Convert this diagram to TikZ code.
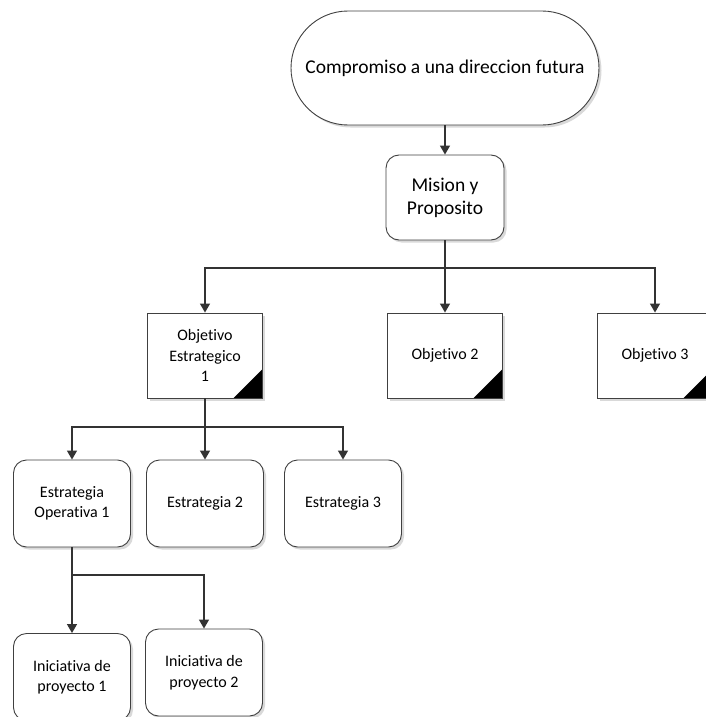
\documentclass[tikz,border=0pt]{standalone}
\usepackage{fontspec}
\setmainfont{Carlito}[Ligatures={NoCommon,NoContextual}]
\usetikzlibrary{arrows.meta,shadows}

\begin{document}
\begin{tikzpicture}[x=1pt,y=-1pt,
    every node/.style={align=center, inner sep=0pt},
    shade box/.style={drop shadow={shadow xshift=2.5pt, shadow yshift=-2.5pt, fill=black!15, opacity=1}},
    pill/.style={draw=black!75, line width=0.9pt, fill=white, shade box,
      rounded corners=57pt, minimum width=308pt, minimum height=114pt,
      font=\fontsize{19.5}{23}\selectfont},
    mainbox/.style={draw=black!75, line width=0.9pt, fill=white, shade box,
      rounded corners=13pt, minimum width=118pt, minimum height=85pt,
      font=\fontsize{19.5}{23}\selectfont},
    roundbox/.style={draw=black!75, line width=0.9pt, fill=white, shade box,
      rounded corners=13pt, minimum width=117pt, minimum height=87pt,
      font=\fontsize{16}{20.5}\selectfont},
    objbox/.style={draw=black!75, line width=0.9pt, fill=white, shade box,
      minimum width=115pt, minimum height=85pt,
      font=\fontsize{16}{20.5}\selectfont,
      path picture={\fill[black]
        ([xshift=-29pt]path picture bounding box.south east) --
        (path picture bounding box.south east) --
        ([yshift=29pt]path picture bounding box.south east) -- cycle;}},
    link/.style={line width=1.3pt, draw=black!80},
    arrow/.style={link, -{Triangle[length=9pt,width=10pt]}}
  ]
  \useasboundingbox (0,0) rectangle (706,717);

  % nodes
  \node[pill] (fut) at (445,68) {Compromiso a una direccion futura};
  \node[mainbox] (mis) at (445,197.5) {Mision y\\Proposito};

  \node[objbox] (obj1) at (205,355.5) {Objetivo\\Estrategico\\1};
  \node[objbox] (obj2) at (445,355.5) {Objetivo 2};
  \node[objbox] (obj3) at (655,355.5) {Objetivo 3};

  \node[roundbox] (est1) at (72,503.5) {Estrategia\\Operativa 1};
  \node[roundbox] (est2) at (205,503.5) {Estrategia 2};
  \node[roundbox] (est3) at (343,503.5) {Estrategia 3};

  \node[roundbox] (ini1) at (72,677) {Iniciativa de\\proyecto 1};
  \node[roundbox] (ini2) at (204,672.5) {Iniciativa de\\proyecto 2};

  % connectors
  \coordinate (jmis) at (445,268);
  \coordinate (jobj) at (205,427);
  \coordinate (jest) at (72,575);

  \draw[arrow] (fut) -- (mis);
  \draw[link] (mis) -- (jmis);
  \draw[arrow] (jmis) -| (obj1);
  \draw[arrow] (jmis) -- (obj2);
  \draw[arrow] (jmis) -| (obj3);

  \draw[link] (obj1) -- (jobj);
  \draw[arrow] (jobj) -| (est1);
  \draw[arrow] (jobj) -- (est2);
  \draw[arrow] (jobj) -| (est3);

  \draw[link] (est1) -- (jest);
  \draw[arrow] (jest) -- (ini1);
  \draw[arrow] (jest) -| (ini2);
\end{tikzpicture}
\end{document}
